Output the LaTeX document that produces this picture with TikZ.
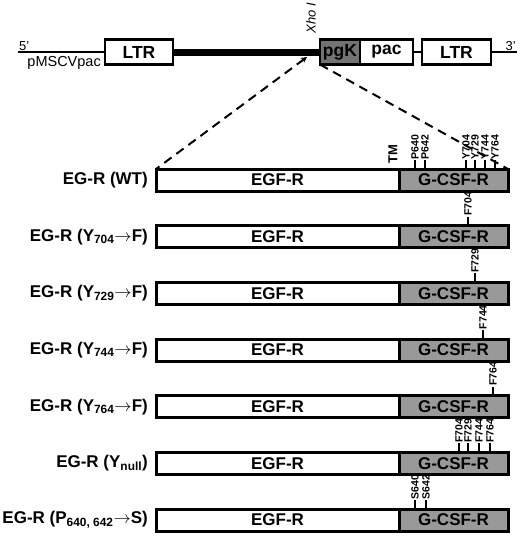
\documentclass[tikz,border=0pt]{standalone}
\usepackage{fontspec}
\setmainfont{Liberation Sans}
\setsansfont{Liberation Sans}
\usetikzlibrary{arrows.meta, positioning}

\begin{document}
\begin{tikzpicture}[
        x=1pt, y=-1pt,
        >={Stealth[length=6pt, width=6pt]},
        vec/.style={draw, line width=2.6pt, fill=white, inner sep=0pt, outer sep=0pt, minimum height=25pt, font=\fontsize{17.5}{18}\selectfont\bfseries},
        egf/.style={draw, line width=3pt, fill=white, inner sep=0pt, outer sep=0pt, minimum width=243pt, minimum height=22pt, font=\fontsize{17}{18}\selectfont\bfseries},
        gcsf/.style={egf, fill=black!40, minimum width=109pt},
        rowlabel/.style={anchor=east, inner sep=0pt, font=\fontsize{17}{18}\selectfont\bfseries},
        site/.style={rotate=90, anchor=west, inner sep=0.6pt, font=\fontsize{10.5}{11}\selectfont\bfseries}
    ]
        \useasboundingbox (0,0) rectangle (520,539);

        % retroviral vector
        \coordinate (five) at (18,52);
        \coordinate (three) at (517,52);
        \node[vec, minimum width=68pt] (ltrA) at (139,52) {LTR};
        \node[vec, minimum width=40pt, fill=black!55] (pgk) at (340,52) {pgK};
        \node[vec, minimum width=53pt, right=0pt of pgk] (pac) {pac};
        \node[vec, minimum width=69pt] (ltrB) at (456.5,52) {LTR};
        \draw[line width=2pt] (five) -- (ltrA.west);
        \draw[line width=7pt] (ltrA.east) -- (pgk.west);
        \draw[line width=2pt] (pac.east) -- (ltrB.west);
        \draw[line width=2pt] (ltrB.east) -- (three);
        \node[anchor=south west, inner sep=1pt, font=\fontsize{13}{14}\selectfont] (lab5) at (five) {5'};
        \node[anchor=south east, inner sep=1pt, font=\fontsize{13}{14}\selectfont] (lab3) at (three) {3'};
        \node[anchor=north east, inner sep=0pt, font=\fontsize{14.5}{16}\selectfont] (vecname) at (101,56) {pMSCVpac};
        \node[rotate=90, font=\fontsize{13}{14}\selectfont\itshape] (xho) at (311,18) {Xho I};
        \coordinate (site) at (307,57);

        % chimeric receptors
        \foreach \i/\y/\txt in {1/180/{EG-R (WT)},
                                2/236.7/{EG-R (Y\textsubscript{704}$\rightarrow$F)},
                                3/293.3/{EG-R (Y\textsubscript{729}$\rightarrow$F)},
                                4/350/{EG-R (Y\textsubscript{744}$\rightarrow$F)},
                                5/406.7/{EG-R (Y\textsubscript{764}$\rightarrow$F)},
                                6/463.3/{EG-R (Y\textsubscript{null})},
                                7/520/{EG-R (P\textsubscript{640, 642}$\rightarrow$S)}} {
            \node[rowlabel] (lab\i) at (148,\y) {\txt};
            \node[egf, anchor=west] (egf\i) at (156,\y) {EGF-R};
            \node[gcsf, right=0pt of egf\i] (gcsf\i) {G-CSF-R};
        }

        \draw[<-, line width=2pt, dash pattern=on 9pt off 6pt] (site) -- (egf1.north west);
        \draw[line width=2pt, dash pattern=on 9pt off 6pt] (pgk.south west) -- (gcsf1.north east);
        \node[rotate=90, anchor=west, inner sep=0pt, font=\fontsize{13}{14}\selectfont\bfseries] (tm) at (393,164) {TM};

        % mutated sites
        \foreach \r/\x/\t in {1/415/P640, 1/425/P642, 1/466/Y704, 1/475/Y729, 1/485/Y744, 1/495/Y764,
                              2/468/F704, 3/475/F729, 4/483/F744, 5/493/F764,
                              6/459/F704, 6/468/F729, 6/479/F744, 6/490/F764,
                              7/415/S640, 7/426/S642} {
            \node[site] (s\r-\t) at ([yshift=9pt] gcsf\r.north -| \x,0) {\t};
            \draw[line width=1.6pt] (s\r-\t.west) -- (s\r-\t.west |- gcsf\r.north);
        }
    \end{tikzpicture}
\end{document}
